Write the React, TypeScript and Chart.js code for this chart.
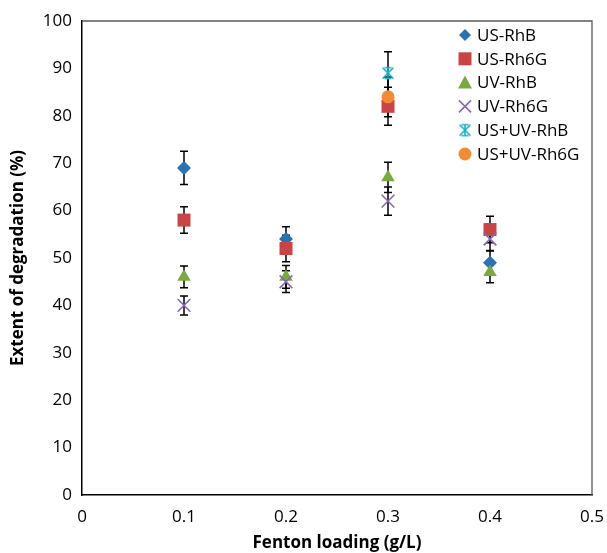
import React, { useEffect, useRef } from "react";
import { Chart, registerables } from "chart.js";

Chart.register(...registerables);

// ---- data ----
const xValues = [0.1, 0.2, 0.3, 0.4];
const seriesNames = ["US-RhB", "US-Rh6G", "UV-RhB", "UV-Rh6G", "US+UV-RhB", "US+UV-Rh6G"];
const usRhB = [69, 54, null, 49];
const usRhBErr = [3.5, 2.6, null, 2.6];
const usRh6G = [58, 52, 82, 56];
const usRh6GErr = [2.8, 2.8, 4, 2.8];
const uvRhB = [46, 46, 67, 47];
const uvRhBErr = [2.3, 2.4, 3.2, 2.2];
const uvRh6G = [40, 45, 62, 54];
const uvRh6GErr = [2, 2.3, 3, 2.5];
const usuvRhB = [null, null, 89, null];
const usuvRhBErr = [null, null, 4.5, null];
const usuvRh6G = [null, null, 84, null];
const usuvRh6GErr = [null, null, 4.2, null];
const xTickLabels = ["0", "0.1", "0.2", "0.3", "0.4", "0.5"];
const yTickLabels = ["0", "10", "20", "30", "40", "50", "60", "70", "80", "90", "100"];

const FONT = "'Open Sans', sans-serif";

function makeStar(color: string, size: number) {
  const c = document.createElement("canvas");
  c.width = size;
  c.height = size;
  const g = c.getContext("2d")!;
  g.strokeStyle = color;
  g.lineWidth = 1.6;
  const p = 1.5;
  g.beginPath();
  g.moveTo(p, p);
  g.lineTo(size - p, size - p);
  g.moveTo(size - p, p);
  g.lineTo(p, size - p);
  g.moveTo(size / 2, p - 0.5);
  g.lineTo(size / 2, size - p + 0.5);
  g.moveTo(p + 2, p);
  g.lineTo(size - p - 2, p);
  g.moveTo(p + 2, size - p);
  g.lineTo(size - p - 2, size - p);
  g.stroke();
  return c;
}

function toPoints(vals: (number | null)[], errs: (number | null)[]) {
  const pts: any[] = [];
  vals.forEach((v, i) => {
    if (v !== null) pts.push({ x: xValues[i], y: v, err: errs[i] });
  });
  return pts;
}

const errorBarPlugin = {
  id: "errorBars",
  beforeDatasetsDraw(chart: any) {
    const { ctx, scales } = chart;
    const xs = scales.x;
    const ys = scales.y;
    ctx.save();
    ctx.strokeStyle = "#000";
    ctx.lineWidth = 1.5;
    chart.data.datasets.forEach((ds: any) => {
      ds.data.forEach((p: any) => {
        if (p.err == null) return;
        const x = xs.getPixelForValue(p.x);
        const yt = ys.getPixelForValue(p.y + p.err);
        const yb = ys.getPixelForValue(p.y - p.err);
        ctx.beginPath();
        ctx.moveTo(x, yt);
        ctx.lineTo(x, yb);
        ctx.moveTo(x - 4, yt);
        ctx.lineTo(x + 4, yt);
        ctx.moveTo(x - 4, yb);
        ctx.lineTo(x + 4, yb);
        ctx.stroke();
      });
    });
    ctx.restore();
  },
};

const frameLegendPlugin = {
  id: "frameLegend",
  afterDraw(chart: any) {
    const { ctx, chartArea } = chart;
    const { left, right, top, bottom } = chartArea;
    ctx.save();
    // top & right frame
    ctx.strokeStyle = "#595959";
    ctx.lineWidth = 1.3;
    ctx.beginPath();
    ctx.moveTo(left, top);
    ctx.lineTo(right, top);
    ctx.lineTo(right, bottom);
    ctx.stroke();
    // legend
    const lx = 465;
    const ly0 = 35;
    const step = 23.8;
    ctx.font = `17px ${FONT}`;
    ctx.textBaseline = "middle";
    ctx.textAlign = "left";
    chart.data.datasets.forEach((ds: any, i: number) => {
      const y = ly0 + i * step;
      const st = ds.pointStyle;
      const r = ds.legendRadius;
      ctx.fillStyle = ds.backgroundColor;
      ctx.strokeStyle = ds.borderColor;
      ctx.lineWidth = ds.borderWidth;
      if (st instanceof HTMLCanvasElement) {
        ctx.drawImage(st, lx - st.width / 2, y - st.height / 2);
      } else {
        ctx.beginPath();
        if (st === "rectRot") {
          ctx.moveTo(lx, y - r);
          ctx.lineTo(lx + r, y);
          ctx.lineTo(lx, y + r);
          ctx.lineTo(lx - r, y);
          ctx.closePath();
          ctx.fill();
        } else if (st === "rect") {
          ctx.rect(lx - r, y - r, 2 * r, 2 * r);
          ctx.fill();
        } else if (st === "triangle") {
          ctx.moveTo(lx, y - r);
          ctx.lineTo(lx + r, y + r * 0.85);
          ctx.lineTo(lx - r, y + r * 0.85);
          ctx.closePath();
          ctx.fill();
        } else if (st === "crossRot") {
          ctx.moveTo(lx - r, y - r);
          ctx.lineTo(lx + r, y + r);
          ctx.moveTo(lx + r, y - r);
          ctx.lineTo(lx - r, y + r);
          ctx.stroke();
        } else if (st === "circle") {
          ctx.arc(lx, y, r, 0, Math.PI * 2);
          ctx.fill();
        }
      }
      ctx.fillStyle = "#000";
      ctx.fillText(ds.label, lx + 12, y + 1);
    });
    ctx.restore();
  },
};

export default function App() {
  const ref = useRef<HTMLCanvasElement>(null);

  useEffect(() => {
    const star = makeStar("#1DB0C7", 14);
    const colors = ["#2A72B1", "#C94545", "#7AA843", "#8767AE", "#1DB0C7", "#F28B35"];
    const vals = [usRhB, usRh6G, uvRhB, uvRh6G, usuvRhB, usuvRh6G];
    const errs = [usRhBErr, usRh6GErr, uvRhBErr, uvRh6GErr, usuvRhBErr, usuvRh6GErr];
    const styles: any[] = ["rectRot", "rect", "triangle", "crossRot", star, "circle"];
    const radii = [7, 9.2, 7.8, 9, 7, 6.5];
    const legendR = [6, 6.5, 7, 6, 7, 6.5];
    const datasets = seriesNames.map((name, i) => ({
      label: name,
      data: toPoints(vals[i], errs[i]),
      pointStyle: styles[i],
      pointRadius: radii[i],
      pointHoverRadius: radii[i],
      backgroundColor: colors[i],
      borderColor: colors[i],
      borderWidth: i === 3 ? 1.6 : 0,
      showLine: false,
      order: 10 - i,
      legendRadius: legendR[i],
    }));

    const chart = new Chart(ref.current!, {
      type: "scatter",
      data: { datasets } as any,
      options: {
        responsive: false,
        animation: false,
        devicePixelRatio: 1,
        layout: { padding: { left: 0, right: 15, top: 21, bottom: 0 } },
        plugins: {
          legend: { display: false },
          tooltip: { enabled: false },
        },
        scales: {
          x: {
            type: "linear",
            min: 0,
            max: 0.5,
            afterBuildTicks: (scale: any) => {
              scale.ticks = xTickLabels.map((t) => ({ value: parseFloat(t) }));
            },
            ticks: {
              callback: (_v: any, idx: number) => xTickLabels[idx],
              font: { family: FONT, size: 17 },
              color: "#000",
              padding: 12,
              maxRotation: 0,
            },
            grid: { display: false, drawTicks: false },
            border: { display: true, color: "#000", width: 1.5 },
            title: {
              display: true,
              text: "Fenton loading (g/L)",
              font: { family: FONT, size: 17, weight: "bold" },
              color: "#000",
              padding: { top: 0, bottom: 0 },
            },
            afterFit: (scale: any) => {
              scale.height = 58;
              scale.paddingLeft = 0;
              scale.paddingRight = 0;
            },
          },
          y: {
            type: "linear",
            min: 0,
            max: 100,
            afterBuildTicks: (scale: any) => {
              scale.ticks = yTickLabels.map((t) => ({ value: parseFloat(t) }));
            },
            ticks: {
              callback: (_v: any, idx: number) => yTickLabels[idx],
              font: { family: FONT, size: 17 },
              color: "#000",
              padding: 10,
            },
            grid: { display: false, drawTicks: false },
            border: { display: true, color: "#000", width: 1.5 },
            title: {
              display: true,
              text: "Extent of degradation (%)",
              font: { family: FONT, size: 17, weight: "bold" },
              color: "#000",
              padding: { top: 8, bottom: 0 },
            },
            afterFit: (scale: any) => {
              scale.width = 82;
              scale.paddingTop = 0;
              scale.paddingBottom = 0;
            },
          },
        },
      } as any,
      plugins: [errorBarPlugin, frameLegendPlugin],
    });
    return () => chart.destroy();
  }, []);

  return (
    <div style={{ position: "absolute", left: 0, top: 0, width: 607, height: 553, background: "#fff" }}>
      <canvas ref={ref} width={607} height={553} style={{ width: 607, height: 553, display: "block" }} />
    </div>
  );
}
